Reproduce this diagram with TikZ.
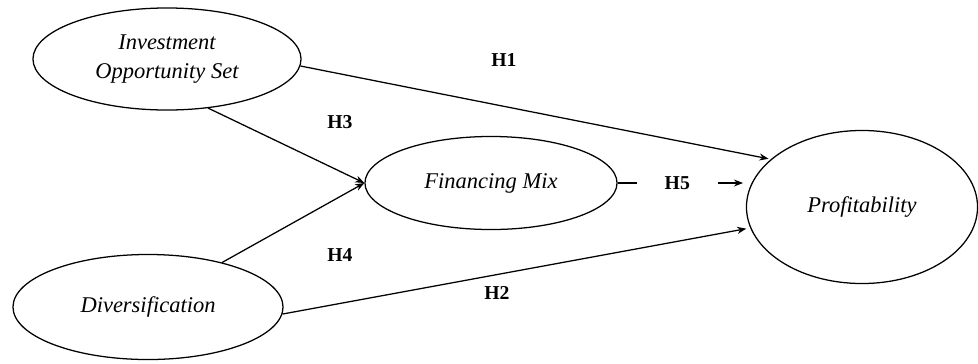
\documentclass[tikz,border=0pt]{standalone}
\usepackage{fontspec}
\setmainfont{Liberation Serif}
\usetikzlibrary{shapes.geometric,arrows.meta}

\tikzset{
  var/.style={draw, ellipse, line width=0.9pt, inner sep=0pt, align=center,
    font=\fontsize{16}{20}\selectfont\itshape},
  hyp/.style={font=\fontsize{14}{16}\selectfont\bfseries},
  arr/.style={-{Stealth[length=6.5pt,width=5pt]}, line width=0.9pt}
}

\begin{document}
\begin{tikzpicture}[x=0.025cm, y=-0.025cm] % pixel units
\useasboundingbox (0,0) rectangle (978,363);
% constructs
\node[var, minimum width=6.7cm, minimum height=2.55cm] (ios) at (167,59) {Investment\\Opportunity Set};
\node[var, minimum width=6.75cm, minimum height=2.625cm] (div) at (148,307) {Diversification};
\node[var, minimum width=6.3cm, minimum height=2.325cm] (fm) at (491,183) {Financing Mix};
\node[var, minimum width=5.775cm, minimum height=3.825cm] (prof) at (862,207) {Profitability};
% paths
\draw[arr] (ios.-3) -- ([xshift=-2pt]prof.152);
\draw[arr] (ios.-50) -- (fm.west);
\draw[arr] (div.31) -- (fm.west);
\draw[arr] (div.-3) -- ([xshift=-3pt]prof.191);
\draw[arr, shorten >=2pt] (fm.east) -- node[hyp, pos=0.465, fill=white, inner xsep=20pt] (h5) {H5} (fm.east -| prof.west);
% hypothesis labels
\node[hyp] (h1) at (504,60) {H1};
\node[hyp] (h3) at (340,122) {H3};
\node[hyp] (h4) at (340,255) {H4};
\node[hyp] (h2) at (497,293) {H2};
\end{tikzpicture}
\end{document}
